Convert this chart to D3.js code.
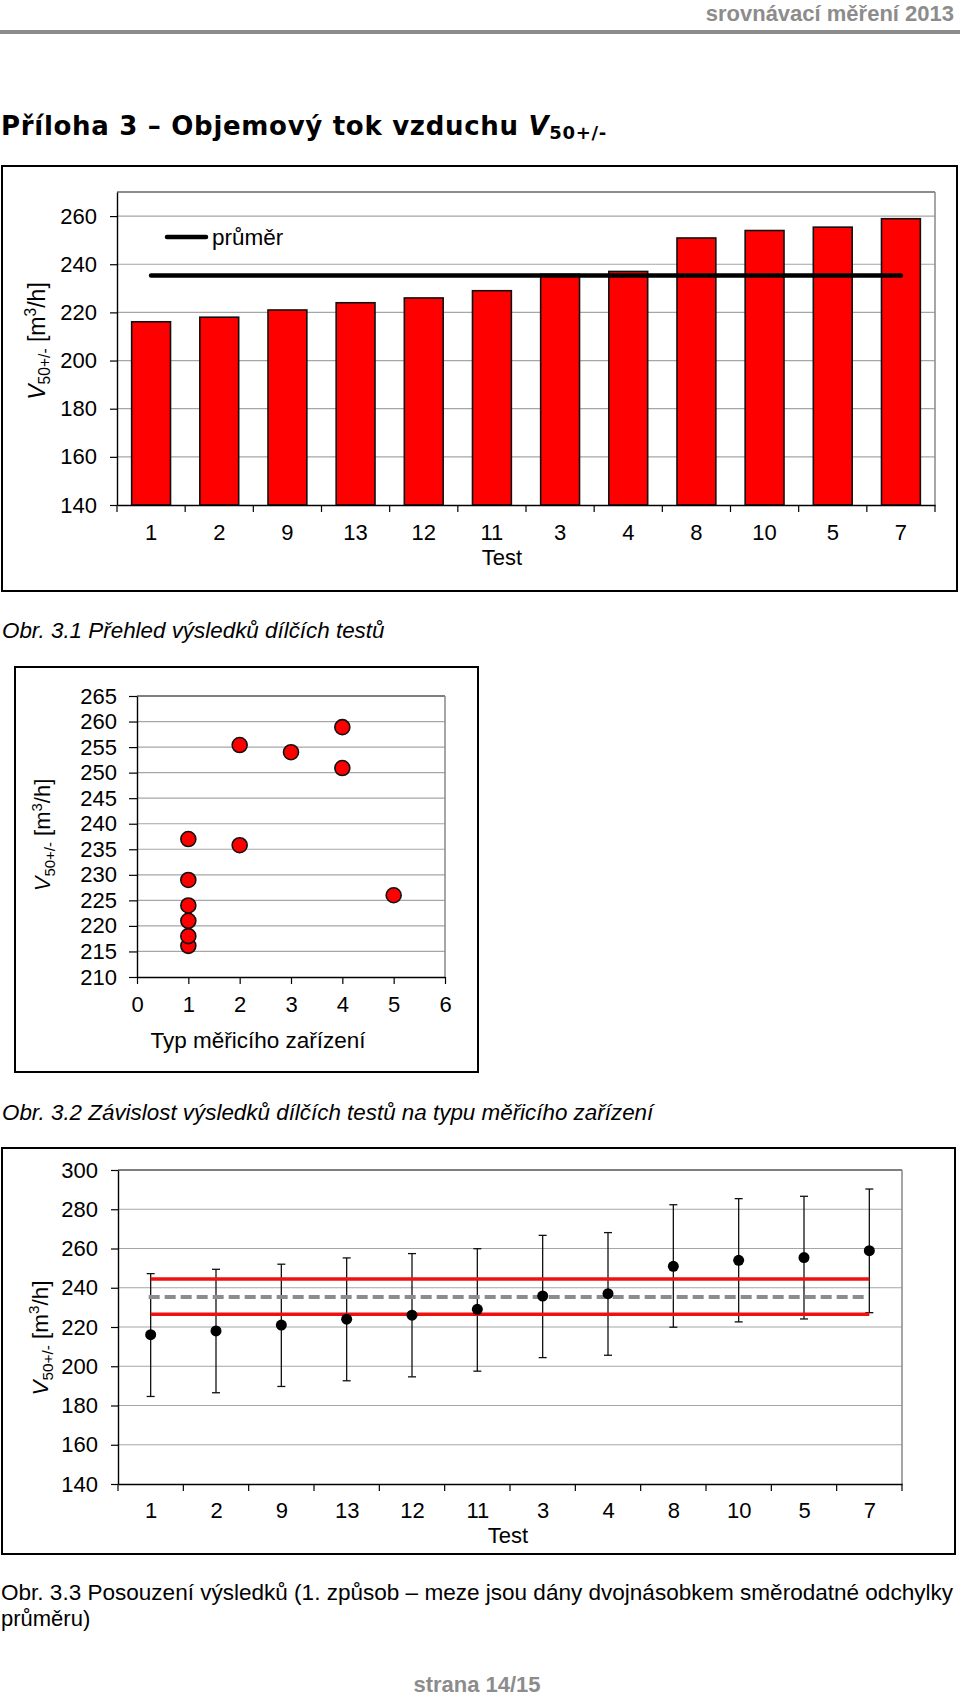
<!DOCTYPE html>
<html><head><meta charset="utf-8">
<script src="https://cdn.jsdelivr.net/npm/d3@7"></script>
<style>body{margin:0;background:#fff} svg{display:block}</style>
</head><body>
<svg id="c" width="960" height="1700"></svg>
<script>
// ---------- DATA ----------
const tests = ["1","2","9","13","12","11","3","4","8","10","5","7"];
const flowValues = [216.1, 218.0, 221.0, 224.0, 226.0, 229.0, 235.8, 237.0, 250.9, 254.0, 255.4, 258.9];
const meanValue = 235.3;
const deviceType = [1, 1, 1, 1, 5, 1, 2, 1, 4, 3, 2, 4];
const upperBar = [247.2, 249.4, 252.0, 255.2, 257.4, 259.9, 266.7, 268.1, 282.3, 285.4, 286.6, 290.3];
const lowerBar = [184.6, 186.5, 189.7, 192.6, 194.6, 197.5, 204.4, 205.6, 219.9, 222.6, 224.1, 227.3];
const upperLimit = 244.5;
const lowerLimit = 226.5;
const ticks1 = [140, 160, 180, 200, 220, 240, 260];
const ticks2y = [210, 215, 220, 225, 230, 235, 240, 245, 250, 255, 260, 265];
const ticks2x = [0, 1, 2, 3, 4, 5, 6];
const ticks3 = [140, 160, 180, 200, 220, 240, 260, 280, 300];

// ---------- SETUP ----------
const svg = d3.select("#c");
const F = "'Liberation Sans', Arial, Helvetica, sans-serif";
const GRID = "#a6a6a6";

function yLabel(g, x, y, size) {
  const tl = g.append("text").attr("transform", `translate(${x},${y}) rotate(-90)`)
    .attr("text-anchor", "middle").attr("font-family", F).attr("font-size", size).attr("fill", "#000");
  tl.append("tspan").attr("font-style", "italic").text("V");
  tl.append("tspan").attr("font-size", size * 0.68).attr("dy", size * 0.22).text("50+/-");
  tl.append("tspan").attr("dy", -size * 0.22).text(" [m");
  tl.append("tspan").attr("font-size", size * 0.68).attr("dy", -size * 0.38).text("3");
  tl.append("tspan").attr("dy", size * 0.38).text("/h]");
}
function styleAxis(g, size) {
  g.selectAll("text").attr("font-family", F).attr("font-size", size).attr("fill", "#000");
  g.selectAll("line").attr("stroke", "#000").attr("stroke-width", 1.2);
  g.select(".domain").attr("stroke", "#000").attr("stroke-width", 1.4);
}

// ---------- HEADER ----------
svg.append("text").attr("x", 954).attr("y", 21).attr("text-anchor", "end")
  .attr("font-family", F).attr("font-weight", "bold").attr("font-size", 22)
  .attr("fill", "#8c8c8c").text("srovnávací měření 2013");
svg.append("line").attr("x1", 0).attr("x2", 960).attr("y1", 32).attr("y2", 32)
  .attr("stroke", "#8c8c8c").attr("stroke-width", 4);

const title = svg.append("text").attr("x", 1).attr("y", 135)
  .attr("font-family", "'DejaVu Sans', Verdana, sans-serif").attr("font-weight", "bold")
  .attr("font-size", 26).attr("letter-spacing", 0.7);
title.append("tspan").text("Příloha 3 – Objemový tok vzduchu ");
title.append("tspan").attr("font-style", "italic").text("V");
title.append("tspan").attr("font-size", 18).attr("dy", 4).text("50+/-");

// ---------- CHART 1: bars ----------
{
  const g = svg.append("g");
  g.append("rect").attr("x", 2).attr("y", 166).attr("width", 955).attr("height", 425)
    .attr("fill", "none").attr("stroke", "#000").attr("stroke-width", 2);
  const L = 117, R = 935, T = 192, B = 505;
  const x = d3.scaleBand().domain(tests).range([L, R]).paddingInner(0.43).paddingOuter(0.215);
  const y = d3.scaleLinear().domain([140, 270]).range([B, T]);
  g.selectAll(".grid").data(ticks1.slice(1)).join("line")
    .attr("x1", L).attr("x2", R).attr("y1", d => y(d)).attr("y2", d => y(d))
    .attr("stroke", GRID).attr("stroke-width", 1.2);
  g.append("line").attr("x1", L).attr("x2", R).attr("y1", y(270)).attr("y2", y(270)).attr("stroke", "#666").attr("stroke-width", 1.5);
  g.append("line").attr("x1", R).attr("x2", R).attr("y1", y(270)).attr("y2", B).attr("stroke", "#888").attr("stroke-width", 1.5);

  g.selectAll(".bar").data(tests).join("rect")
    .attr("x", d => x(d)).attr("width", x.bandwidth())
    .attr("y", (d, i) => y(flowValues[i])).attr("height", (d, i) => B - y(flowValues[i]))
    .attr("fill", "#ff0000").attr("stroke", "#111").attr("stroke-width", 1.6);

  const ay = g.append("g").attr("transform", `translate(${L},0)`)
    .call(d3.axisLeft(y).tickValues(ticks1).tickSize(7).tickPadding(13).tickSizeOuter(0));
  styleAxis(ay, 22);
  const ax = g.append("g").attr("transform", `translate(0,${B})`)
    .call(d3.axisBottom(x).tickSize(0).tickPadding(19).tickSizeOuter(0));
  styleAxis(ax, 22);
  const half = x.step() * x.paddingInner() / 2;
  const bounds = tests.map(d => x(d) - half).concat([R]);
  g.selectAll(".bt").data(bounds).join("line")
    .attr("x1", d => d).attr("x2", d => d).attr("y1", B).attr("y2", B + 7)
    .attr("stroke", "#000").attr("stroke-width", 1.2);

  const cx0 = x(tests[0]) + x.bandwidth() / 2, cx1 = x(tests[tests.length - 1]) + x.bandwidth() / 2;
  g.append("line").attr("x1", cx0).attr("x2", cx1).attr("y1", y(meanValue)).attr("y2", y(meanValue))
    .attr("stroke", "#000").attr("stroke-width", 4.5).attr("stroke-linecap", "round");
  // legend
  g.append("line").attr("x1", 167).attr("x2", 206).attr("y1", 237).attr("y2", 237)
    .attr("stroke", "#000").attr("stroke-width", 4.5).attr("stroke-linecap", "round");
  g.append("text").attr("x", 212).attr("y", 245).attr("font-family", F).attr("font-size", 22.5).text("průměr");

  g.append("text").attr("x", 502).attr("y", 565).attr("text-anchor", "middle")
    .attr("font-family", F).attr("font-size", 22).text("Test");
  yLabel(g, 45, 341, 23);
}

svg.append("text").attr("x", 2).attr("y", 638).attr("font-family", F).attr("font-style", "italic")
  .attr("font-size", 22.4).text("Obr. 3.1 Přehled výsledků dílčích testů");

// ---------- CHART 2: scatter ----------
{
  const g = svg.append("g");
  g.append("rect").attr("x", 15).attr("y", 667).attr("width", 463).attr("height", 405)
    .attr("fill", "none").attr("stroke", "#000").attr("stroke-width", 2);
  const L = 137, R = 445, T = 696, B = 977;
  const x = d3.scaleLinear().domain([0, 6]).range([L, R]);
  const y = d3.scaleLinear().domain([210, 265]).range([B, T]);
  g.selectAll(".grid").data(ticks2y.slice(1, -1)).join("line")
    .attr("x1", L).attr("x2", R).attr("y1", d => y(d)).attr("y2", d => y(d))
    .attr("stroke", GRID).attr("stroke-width", 1.2);
  g.append("line").attr("x1", L).attr("x2", R).attr("y1", T).attr("y2", T).attr("stroke", "#555").attr("stroke-width", 1.5);
  g.append("line").attr("x1", R).attr("x2", R).attr("y1", T).attr("y2", B).attr("stroke", "#888").attr("stroke-width", 1.5);

  const ay = g.append("g").attr("transform", `translate(${L},0)`)
    .call(d3.axisLeft(y).tickValues(ticks2y).tickSize(8).tickPadding(12).tickSizeOuter(0));
  styleAxis(ay, 22);
  const ax = g.append("g").attr("transform", `translate(0,${B})`)
    .call(d3.axisBottom(x).tickValues(ticks2x).tickFormat(d3.format("d")).tickSize(7).tickPadding(12).tickSizeOuter(0));
  styleAxis(ax, 22);

  g.selectAll(".pt").data(flowValues).join("circle")
    .attr("cx", (d, i) => x(deviceType[i])).attr("cy", d => y(d)).attr("r", 7.5)
    .attr("fill", "#ff0000").attr("stroke", "#111").attr("stroke-width", 1.6);

  g.append("text").attr("x", 258).attr("y", 1048).attr("text-anchor", "middle")
    .attr("font-family", F).attr("font-size", 22.5).text("Typ měřicího zařízení");
  yLabel(g, 50, 835, 22);
}

svg.append("text").attr("x", 2).attr("y", 1120).attr("font-family", F).attr("font-style", "italic")
  .attr("font-size", 22.4).text("Obr. 3.2 Závislost výsledků dílčích testů na typu měřicího zařízení");

// ---------- CHART 3: error bars ----------
{
  const g = svg.append("g");
  g.append("rect").attr("x", 2).attr("y", 1148).attr("width", 953).attr("height", 406)
    .attr("fill", "none").attr("stroke", "#000").attr("stroke-width", 2);
  const L = 118, R = 902, T = 1170, B = 1484;
  const x = d3.scalePoint().domain(tests).range([L, R]).padding(0.5);
  const y = d3.scaleLinear().domain([140, 300]).range([B, T]);
  g.selectAll(".grid").data(ticks3.slice(1, -1)).join("line")
    .attr("x1", L).attr("x2", R).attr("y1", d => y(d)).attr("y2", d => y(d))
    .attr("stroke", GRID).attr("stroke-width", 1.2);
  g.append("line").attr("x1", L).attr("x2", R).attr("y1", T).attr("y2", T).attr("stroke", "#555").attr("stroke-width", 1.5);
  g.append("line").attr("x1", R).attr("x2", R).attr("y1", T).attr("y2", B).attr("stroke", "#888").attr("stroke-width", 1.5);

  const ay = g.append("g").attr("transform", `translate(${L},0)`)
    .call(d3.axisLeft(y).tickValues(ticks3).tickSize(7).tickPadding(13).tickSizeOuter(0));
  styleAxis(ay, 22);
  const ax = g.append("g").attr("transform", `translate(0,${B})`)
    .call(d3.axisBottom(x).tickSize(0).tickPadding(18).tickSizeOuter(0));
  styleAxis(ax, 22);
  const bounds = tests.map(d => x(d) - x.step() / 2).concat([R]);
  g.selectAll(".bt").data(bounds).join("line")
    .attr("x1", d => d).attr("x2", d => d).attr("y1", B).attr("y2", B + 7)
    .attr("stroke", "#000").attr("stroke-width", 1.2);

  const x0 = x(tests[0]), x1 = x(tests[tests.length - 1]);
  // error bars
  const eb = g.selectAll(".eb").data(tests).join("g");
  eb.append("line").attr("x1", d => x(d)).attr("x2", d => x(d))
    .attr("y1", (d, i) => y(upperBar[i])).attr("y2", (d, i) => y(lowerBar[i]))
    .attr("stroke", "#111").attr("stroke-width", 1.3);
  eb.append("line").attr("x1", d => x(d) - 4).attr("x2", d => x(d) + 4)
    .attr("y1", (d, i) => y(upperBar[i])).attr("y2", (d, i) => y(upperBar[i]))
    .attr("stroke", "#111").attr("stroke-width", 1.3);
  eb.append("line").attr("x1", d => x(d) - 4).attr("x2", d => x(d) + 4)
    .attr("y1", (d, i) => y(lowerBar[i])).attr("y2", (d, i) => y(lowerBar[i]))
    .attr("stroke", "#111").attr("stroke-width", 1.3);

  [upperLimit, lowerLimit].forEach(v => {
    g.append("line").attr("x1", x0).attr("x2", x1).attr("y1", y(v)).attr("y2", y(v))
      .attr("stroke", "#ee1111").attr("stroke-width", 3.5);
  });
  g.append("line").attr("x1", x0 - 2).attr("x2", x1 - 2).attr("y1", y(meanValue)).attr("y2", y(meanValue))
    .attr("stroke", "#8c8c8c").attr("stroke-width", 4).attr("stroke-dasharray", "11,5");

  g.selectAll(".pt").data(flowValues).join("circle")
    .attr("cx", (d, i) => x(tests[i])).attr("cy", d => y(d)).attr("r", 5.5).attr("fill", "#000");

  g.append("text").attr("x", 508).attr("y", 1543).attr("text-anchor", "middle")
    .attr("font-family", F).attr("font-size", 22).text("Test");
  yLabel(g, 48, 1338, 22.5);
}

svg.append("text").attr("x", 1).attr("y", 1600).attr("font-family", F).attr("font-size", 22)
  .attr("textLength", 952).attr("lengthAdjust", "spacingAndGlyphs")
  .text("Obr. 3.3 Posouzení výsledků (1. způsob – meze jsou dány dvojnásobkem směrodatné odchylky");
svg.append("text").attr("x", 1).attr("y", 1626).attr("font-family", F).attr("font-size", 22).text("průměru)");

svg.append("text").attr("x", 477).attr("y", 1692).attr("text-anchor", "middle")
  .attr("font-family", F).attr("font-weight", "bold").attr("font-size", 22)
  .attr("fill", "#8c8c8c").text("strana 14/15");
</script>
</body></html>
